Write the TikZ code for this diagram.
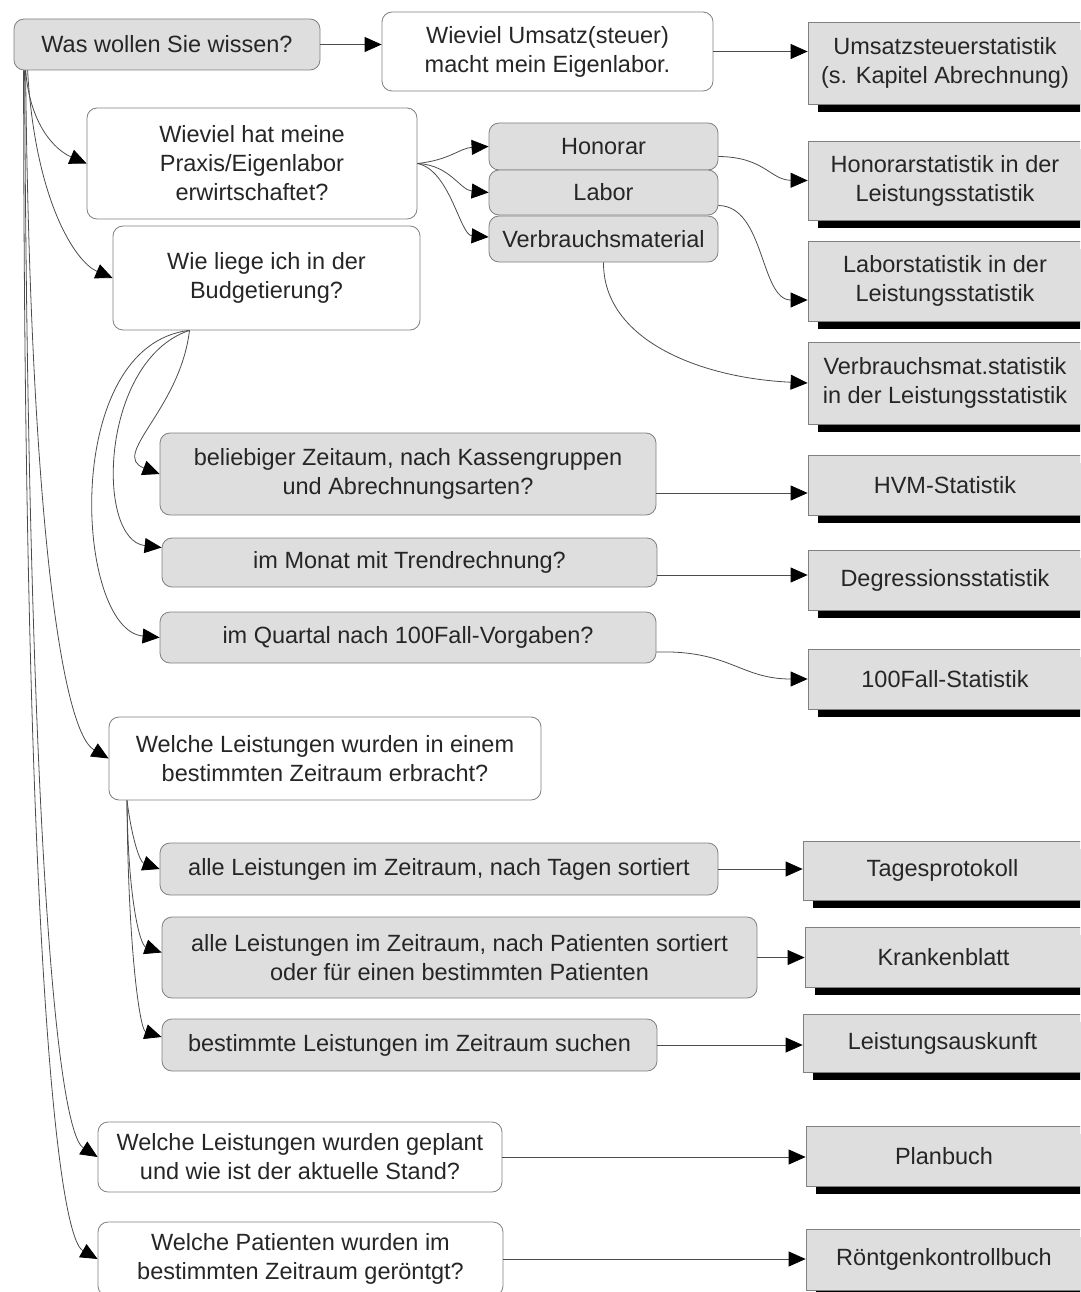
\documentclass[tikz,border=0pt]{standalone}
\usepackage{fontspec}
\setmainfont{Liberation Sans}
\usetikzlibrary{arrows.meta,shadows}
\begin{document}
\begin{tikzpicture}[x=1pt,y=-1pt,font=\fontsize{23.5}{29}\selectfont,
  box/.style={draw=black!50,line width=0.8pt,align=center,inner sep=0pt,text=black!85},
  qbox/.style={box,fill=white,rounded corners=10pt},
  gbox/.style={box,fill=black!13,rounded corners=10pt},
  rbox/.style={box,fill=black!13,minimum width=274pt,
    drop shadow={shadow xshift=10pt,shadow yshift=-8pt,fill=black,opacity=1}},
  conn/.style={draw=black!70,line width=0.8pt,
    -{Triangle[length=17pt,width=15pt,black]}}]
\useasboundingbox (0,0) rectangle (1080,1292);
\clip (0,0) rectangle (1080,1292);

% question / root nodes
\node[gbox,minimum width=306pt,minimum height=51pt] (root) at (167,44.5) {Was wollen Sie wissen?};
\node[qbox,minimum width=331pt,minimum height=79pt] (q1) at (547.5,51.5) {Wieviel Umsatz(steuer)\\macht mein Eigenlabor.};
\node[qbox,minimum width=330pt,minimum height=111pt] (q2) at (252,163.5) {Wieviel hat meine\\Praxis/Eigenlabor\\erwirtschaftet?};
\node[qbox,minimum width=307pt,minimum height=104pt] (q3) at (266.5,278) {Wie liege ich in der\\Budgetierung?};
\node[qbox,minimum width=432pt,minimum height=83pt] (q4) at (325,758.5) {Welche Leistungen wurden in einem\\bestimmten Zeitraum erbracht?};
\node[qbox,minimum width=404pt,minimum height=70pt] (q5) at (300,1157) {Welche Leistungen wurden geplant\\und wie ist der aktuelle Stand?};
\node[qbox,minimum width=405pt,minimum height=74pt] (q6) at (300.5,1259) {Welche Patienten wurden im\\bestimmten Zeitraum geröntgt?};

% gray sub nodes
\node[gbox,minimum width=229pt,minimum height=47pt] (hon) at (603.5,146.5) {Honorar};
\node[gbox,minimum width=229pt,minimum height=45pt] (lab) at (603.5,192.5) {Labor};
\node[gbox,minimum width=229pt,minimum height=46pt] (verb) at (603.5,239) {Verbrauchsmaterial};
\node[gbox,minimum width=496pt,minimum height=82pt] (bel) at (408,474) {beliebiger Zeitaum, nach Kassengruppen\\und Abrechnungsarten?};
\node[gbox,minimum width=495pt,minimum height=49pt] (mon) at (409.5,562.5) {im Monat mit Trendrechnung?};
\node[gbox,minimum width=496pt,minimum height=51pt] (qua) at (408,637.5) {im Quartal nach 100Fall-Vorgaben?};
\node[gbox,minimum width=558pt,minimum height=52pt] (tag) at (439,869) {alle Leistungen im Zeitraum, nach Tagen sortiert};
\node[gbox,minimum width=595pt,minimum height=81pt] (pat) at (459.5,957.5) {alle Leistungen im Zeitraum, nach Patienten sortiert\\oder für einen bestimmten Patienten};
\node[gbox,minimum width=495pt,minimum height=52pt] (such) at (409.5,1045) {bestimmte Leistungen im Zeitraum suchen};

% result nodes
\node[rbox,minimum height=82pt] (r1) at (945,63) {Umsatzsteuerstatistik\\(s. Kapitel Abrechnung)};
\node[rbox,minimum height=79pt] (r2) at (945,180.5) {Honorarstatistik in der\\Leistungsstatistik};
\node[rbox,minimum height=80pt] (r3) at (945,281) {Laborstatistik in der\\Leistungsstatistik};
\node[rbox,minimum height=82pt] (r4) at (945,383) {Verbrauchsmat.statistik\\in der Leistungsstatistik};
\node[rbox,minimum height=60pt] (r5) at (945,485) {HVM-Statistik};
\node[rbox,minimum height=60pt] (r6) at (945,580) {Degressionsstatistik};
\node[rbox,minimum height=60pt] (r7) at (945,679) {100Fall-Statistik};
\node[rbox,minimum width=279pt,minimum height=59pt] (r8) at (942.5,870.5) {Tagesprotokoll};
\node[rbox,minimum width=277pt,minimum height=60pt] (r9) at (943.5,957) {Krankenblatt};
\node[rbox,minimum width=279pt,minimum height=58pt] (r10) at (942.5,1043) {Leistungsauskunft};
\node[rbox,minimum width=276pt,minimum height=60pt] (r11) at (944,1156) {Planbuch};
\node[rbox,minimum width=276pt,minimum height=61pt] (r12) at (944,1259.5) {Röntgenkontrollbuch};

% connectors from root
\coordinate (rs) at ([xshift=12pt]root.south west);
\draw[conn] (root.east) -- (root.east -| q1.west);
\draw[conn] (rs) .. controls (30,125) and (55,150) .. (q2.west);
\draw[conn] ([xshift=2pt]rs) .. controls (35,200) and (75,262) .. (q3.west);
\draw[conn] (rs) .. controls (30,500) and (60,730) .. (q4.west);
\draw[conn] ([xshift=-1pt]rs) .. controls (28,800) and (55,1130) .. (q5.west);
\draw[conn] ([xshift=-2pt]rs) .. controls (24,900) and (55,1235) .. (q6.west);

\draw[conn] (q1.east) -- (q1.east -| r1.west);

% Praxis/Eigenlabor
\draw[conn] (q2.east) .. controls (450,160) and (460,148) .. (hon.west);
\draw[conn] (q2.east) .. controls (450,165) and (460,190) .. (lab.west);
\draw[conn] (q2.east) .. controls (450,170) and (460,235) .. ([yshift=2pt]verb.west);
\draw[conn] ([yshift=-10pt]hon.east) .. controls (765,157) and (770,180) .. (r2.west);
\draw[conn] ([yshift=-13pt]lab.east) .. controls (765,206) and (760,300) .. ([yshift=-19pt]r3.west);
\draw[conn] (verb.south) .. controls (603,340) and (700,378) .. (r4.west);

% Budgetierung
\coordinate (bs) at ([xshift=-77pt]q3.south);
\draw[conn] (bs) .. controls (180,410) and (110,455) .. (bel.west);
\draw[conn] (bs) .. controls (100,360) and (95,540) .. ([yshift=15pt]mon.west);
\draw[conn] (bs) .. controls (60,345) and (75,630) .. (qua.west);
\draw[conn] ([yshift=-19pt]bel.east) -- ([yshift=-8pt]r5.west);
\draw[conn] ([yshift=-12.5pt]mon.east) -- ([yshift=5pt]r6.west);
\draw[conn] ([yshift=-14.5pt]qua.east) .. controls (730,650) and (740,679) .. (r7.west);

% Leistungen im Zeitraum
\coordinate (ls) at ([xshift=-198pt]q4.south);
\draw[conn] (ls) .. controls (132,840) and (140,862) .. (tag.west);
\draw[conn] (ls) .. controls (128,900) and (140,945) .. ([yshift=5pt]pat.west);
\draw[conn] (ls) .. controls (128,950) and (140,1030) .. ([yshift=8pt]such.west);
\draw[conn] (tag.east) -- (tag.east -| r8.west);
\draw[conn] (pat.east) -- (pat.east -| r9.west);
\draw[conn] (such.east) -- (such.east -| r10.west);

% Planbuch / Roentgen
\draw[conn] (q5.east) -- (q5.east -| r11.west);
\draw[conn] (q6.east) -- (q6.east -| r12.west);
\end{tikzpicture}
\end{document}
